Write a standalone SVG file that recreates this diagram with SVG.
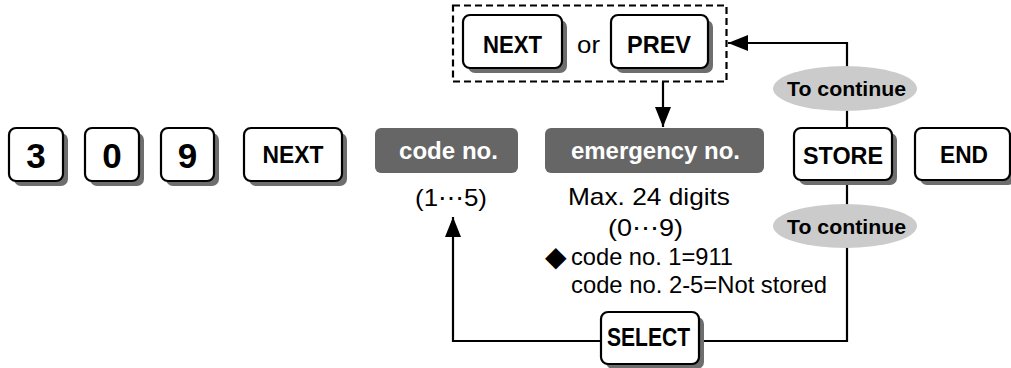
<svg xmlns="http://www.w3.org/2000/svg" width="1011" height="368" viewBox="0 0 1011 368">
<style>
.sh{fill:#6e6e6e}
.key{fill:#fff;stroke:#000;stroke-width:2.2}
.kt{font-family:"Liberation Sans",Arial,sans-serif;font-weight:bold;font-size:23px;fill:#000;text-anchor:middle}
.dg{font-family:"Liberation Sans",Arial,sans-serif;font-weight:bold;font-size:35px;fill:#000;text-anchor:middle}
.gbox{fill:#666}
.gt{font-family:"Liberation Sans",Arial,sans-serif;font-weight:bold;font-size:24px;fill:#fff;text-anchor:middle}
.rt{font-family:"Liberation Sans","DejaVu Sans",Arial,sans-serif;font-size:24px;fill:#000}
.ell{fill:#cbcbcb}
.et{font-family:"Liberation Sans",Arial,sans-serif;font-weight:bold;font-size:21px;fill:#000;text-anchor:middle}
.ln{fill:none;stroke:#000;stroke-width:2.2}
</style>
<defs>
<marker id="ah" markerUnits="userSpaceOnUse" markerWidth="20" markerHeight="16" refX="20" refY="8" orient="auto">
<path d="M0,0 L20,8 L0,16 Z" fill="#000"/>
</marker>
</defs>
<g id="connectors">
<line class="ln" x1="663" y1="82" x2="663" y2="127" marker-end="url(#ah)"/>
<path class="ln" d="M847,128 V43 H728" marker-end="url(#ah)"/>
<path class="ln" d="M847,180 V341 H699"/>
<path class="ln" d="M601,341 H453 V217" marker-end="url(#ah)"/>
</g>
<g id="key3">
<rect class="sh" x="14" y="133" width="54" height="53" rx="7"/>
<rect class="key" x="9" y="128" width="54" height="53" rx="7"/>
<text class="dg" x="36" y="167.5">3</text>
</g>
<g id="key0">
<rect class="sh" x="90" y="133" width="54" height="53" rx="7"/>
<rect class="key" x="85" y="128" width="54" height="53" rx="7"/>
<text class="dg" x="112" y="167.5">0</text>
</g>
<g id="key9">
<rect class="sh" x="166" y="133" width="53" height="53" rx="7"/>
<rect class="key" x="161" y="128" width="53" height="53" rx="7"/>
<text class="dg" x="187.5" y="167.5">9</text>
</g>
<g id="next1">
<rect class="sh" x="249" y="133" width="98" height="53" rx="7"/>
<rect class="key" x="244" y="128" width="98" height="53" rx="7"/>
<text class="kt" x="293" y="163" textLength="61" lengthAdjust="spacingAndGlyphs">NEXT</text>
</g>
<g id="code">
<rect class="gbox" x="375" y="128" width="143" height="45" rx="6"/>
<text class="gt" x="448.5" y="159" textLength="99" lengthAdjust="spacingAndGlyphs">code no.</text>
<text class="rt" x="451" y="206" text-anchor="middle" textLength="72" lengthAdjust="spacingAndGlyphs">(1⋯5)</text>
</g>
<g id="emergency">
<rect class="gbox" x="545" y="128" width="219" height="45" rx="6"/>
<text class="gt" x="655.5" y="159" textLength="169" lengthAdjust="spacingAndGlyphs">emergency no.</text>
<text class="rt" x="649" y="205" text-anchor="middle" textLength="162" lengthAdjust="spacingAndGlyphs">Max. 24 digits</text>
<text class="rt" x="645.5" y="236" text-anchor="middle" textLength="75" lengthAdjust="spacingAndGlyphs">(0⋯9)</text>
<text class="rt" x="545" y="266" style="font-family:'DejaVu Sans',sans-serif;font-size:28px">◆</text>
<text class="rt" x="571" y="265" textLength="162" lengthAdjust="spacingAndGlyphs">code no. 1=911</text>
<text class="rt" x="571" y="293" textLength="256" lengthAdjust="spacingAndGlyphs">code no. 2-5=Not stored</text>
</g>
<g id="choice">
<rect x="453" y="5.5" width="273.5" height="76" fill="none" stroke="#000" stroke-width="2.2" stroke-dasharray="7,4"/>
<rect class="sh" x="468" y="20" width="99" height="53" rx="7"/>
<rect class="key" x="463" y="15" width="99" height="53" rx="7"/>
<text class="kt" x="512.5" y="53" textLength="59" lengthAdjust="spacingAndGlyphs">NEXT</text>
<text class="rt" x="588.5" y="53" text-anchor="middle" textLength="23" lengthAdjust="spacingAndGlyphs">or</text>
<rect class="sh" x="616" y="20" width="97" height="53" rx="7"/>
<rect class="key" x="611" y="15" width="97" height="53" rx="7"/>
<text class="kt" x="659" y="53" textLength="64" lengthAdjust="spacingAndGlyphs">PREV</text>
</g>
<g id="continue1">
<ellipse class="ell" cx="845" cy="88.5" rx="72" ry="22.5"/>
<text class="et" x="846.5" y="95.5" textLength="119" lengthAdjust="spacingAndGlyphs">To continue</text>
</g>
<g id="store">
<rect class="sh" x="799" y="133" width="98" height="52" rx="7"/>
<rect class="key" x="794" y="128" width="98" height="52" rx="7"/>
<text class="kt" x="843" y="164" textLength="80" lengthAdjust="spacingAndGlyphs">STORE</text>
</g>
<g id="end">
<rect class="sh" x="920" y="133" width="95" height="52" rx="7"/>
<rect class="key" x="915" y="128" width="95" height="52" rx="7"/>
<text class="kt" x="964" y="163" textLength="48" lengthAdjust="spacingAndGlyphs">END</text>
</g>
<g id="continue2">
<ellipse class="ell" cx="845" cy="226" rx="72" ry="22"/>
<text class="et" x="846.5" y="234" textLength="119" lengthAdjust="spacingAndGlyphs">To continue</text>
</g>
<g id="select">
<rect class="sh" x="606" y="317" width="98" height="52" rx="7"/>
<rect class="key" x="601" y="312" width="98" height="52" rx="7"/>
<text class="kt" x="648.5" y="346" style="font-size:25px" textLength="83" lengthAdjust="spacingAndGlyphs">SELECT</text>
</g>
</svg>
